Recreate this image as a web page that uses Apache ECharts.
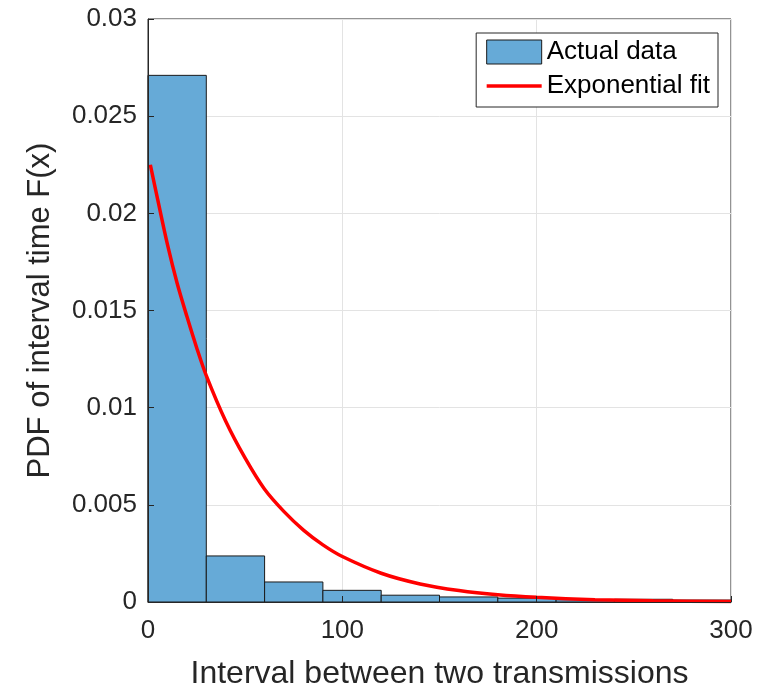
<!DOCTYPE html>
<html>
<head>
<meta charset="utf-8">
<script src="https://cdn.jsdelivr.net/npm/echarts@6/dist/echarts.min.js"></script>
<style>
  html, body { margin: 0; padding: 0; background: #fff; }
  #chart { width: 761px; height: 687px; }
</style>
</head>
<body>
<div id="chart"></div>
<script>
// histogram bins (start, end) and PDF heights
var binEdges = [0, 30, 60, 90, 120, 150, 180, 210, 240, 270, 300];
var binHeights = [0.0271, 0.00237, 0.00103, 0.0006, 0.00035, 0.00026, 0.0002, 0.00012, 0.00014, 0.0001];

// exponential fit curve
var fitX = [1.2, 5, 10, 15, 20, 25, 30, 40, 50, 60, 70, 80, 90, 100, 120, 140, 160, 180, 200, 230, 260, 300];
var fitY = [0.0225, 0.0207, 0.0184, 0.0164, 0.0147, 0.0131, 0.01165, 0.0093, 0.0074, 0.0058, 0.00465, 0.0037,
            0.00294, 0.00234, 0.00148, 0.00093, 0.00059, 0.00037, 0.00024, 0.00012, 0.00006, 0.00002];

var yTicks = ["0", "0.005", "0.01", "0.015", "0.02", "0.025", "0.03"];
var xTicks = ["0", "100", "200", "300"];

var histData = [];
for (var i = 0; i < binHeights.length; i++) {
  histData.push([binEdges[i], binEdges[i + 1], binHeights[i]]);
}
var fitData = fitX.map(function (x, i) { return [x, fitY[i]]; });

var font = "Liberation Sans, Arial, Helvetica, sans-serif";
var textColor = "#262626";

var chart = echarts.init(document.getElementById("chart"));
chart.setOption({
  animation: false,
  backgroundColor: "#fff",
  grid: {
    left: 148, right: 30, top: 19, bottom: 85,
    outerBoundsMode: "none",
    show: true, borderColor: "#262626", borderWidth: 1
  },
  legend: {
    orient: "vertical",
    right: 43, top: 33,
    backgroundColor: "#fff",
    borderColor: "#262626", borderWidth: 1,
    padding: [6, 8, 8, 10],
    itemGap: 8,
    itemWidth: 55, itemHeight: 24,
    textStyle: { fontFamily: font, fontSize: 26, color: "#000" },
    data: [
      { name: "Actual data", icon: "rect", itemStyle: { color: "#66aad7", borderColor: "#1a1a1a", borderWidth: 1 } },
      { name: "Exponential fit", icon: "path://M0,0L100,0L100,6.5L0,6.5Z", itemStyle: { color: "#ff0000" } }
    ]
  },
  xAxis: [
    {
      type: "value", min: 0, max: 300, interval: 100,
      name: "Interval between two transmissions",
      nameLocation: "middle", nameGap: 56,
      nameTextStyle: { fontFamily: font, fontSize: 32, color: textColor },
      axisLine: { show: false }, axisTick: { show: false },
      axisLabel: {
        fontFamily: font, fontSize: 26, color: textColor, margin: 16,
        formatter: function (v) { return xTicks[Math.round(v / 100)]; }
      },
      splitLine: { show: true, lineStyle: { color: "#e3e3e3", width: 1 } }
    },
    {
      type: "value", min: 0, max: 300, interval: 100, position: "bottom", z: 10,
      axisLine: { show: true, onZero: false, lineStyle: { color: "#262626", width: 1 } },
      axisTick: { show: true, inside: true, length: 6, lineStyle: { color: "#262626" } },
      axisLabel: { show: false }, splitLine: { show: false }
    }
  ],
  yAxis: [
    {
      type: "value", min: 0, max: 0.03, interval: 0.005,
      name: "PDF of interval time F(x)",
      nameLocation: "middle", nameGap: 92,
      nameTextStyle: { fontFamily: font, fontSize: 31, color: textColor },
      axisLine: { show: false }, axisTick: { show: false },
      axisLabel: {
        fontFamily: font, fontSize: 26, color: textColor, margin: 11,
        formatter: function (v) { return yTicks[Math.round(v / 0.005)]; }
      },
      splitLine: { show: true, lineStyle: { color: "#e3e3e3", width: 1 } }
    },
    {
      type: "value", min: 0, max: 0.03, interval: 0.005, position: "left", z: 10,
      axisLine: { show: true, onZero: false, lineStyle: { color: "#262626", width: 1 } },
      axisTick: { show: true, inside: true, length: 6, lineStyle: { color: "#262626" } },
      axisLabel: { show: false }, splitLine: { show: false }
    }
  ],
  series: [
    {
      name: "Actual data",
      type: "custom",
      xAxisIndex: 0, yAxisIndex: 0,
      itemStyle: { color: "#66aad7" },
      renderItem: function (params, api) {
        var p0 = api.coord([api.value(0), 0]);
        var p1 = api.coord([api.value(1), api.value(2)]);
        return {
          type: "rect",
          shape: { x: p0[0], y: p1[1], width: p1[0] - p0[0], height: p0[1] - p1[1] },
          style: { fill: "#66aad7", stroke: "#1a1a1a", lineWidth: 1 }
        };
      },
      encode: { x: [0, 1], y: 2 },
      data: histData,
      z: 2
    },
    {
      name: "Exponential fit",
      type: "line",
      xAxisIndex: 0, yAxisIndex: 0,
      smooth: 0.3,
      symbol: "none",
      lineStyle: { color: "#ff0000", width: 3.5 },
      itemStyle: { color: "#ff0000" },
      data: fitData,
      z: 3
    }
  ]
});
</script>
</body>
</html>
